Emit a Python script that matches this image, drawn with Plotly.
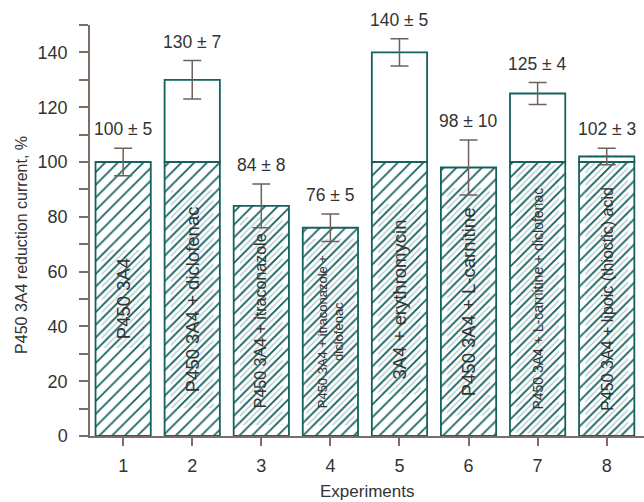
import plotly.graph_objects as go

# ---- data ----
experiments = [1, 2, 3, 4, 5, 6, 7, 8]
values = [100, 130, 84, 76, 140, 98, 125, 102]
errors = [5, 7, 8, 5, 5, 10, 4, 3]
inner_labels = [
    "P450 3A4",
    "P450 3A4 + diclofenac",
    "P450 3A4 + itraconazole",
    "P450 3A4 + itraconazole +<br>diclofenac",
    "3A4 + erythromycin",
    "P450 3A4 + L-carnitine",
    "P450 3A4 + L-carnitine + diclofenac",
    "P450 3A4 + lipoic (thioctic) acid",
]
y_ticks = [0, 20, 40, 60, 80, 100, 120, 140]

# ---- style ----
TEAL = "#14625f"
LIGHT = "#b3cacb"
ERR = "#6f605a"
AXIS = "#7c6d68"
TXT = "#333333"
FONT = "Liberation Sans, Arial, sans-serif"
CLEAR = "rgba(0,0,0,0)"
label_sizes = [18.5, 18.5, 16, 13, 18.5, 18.5, 14, 16]
label_lines = [1, 1, 1, 2, 1, 1, 1, 1]

Y_MAX = 150
PLOT_H = 411
px_per_unit = PLOT_H / Y_MAX

base_vals = [min(v, 100) for v in values]
mids = [b / 2 for b in base_vals]

# underlay (lighter hatch behind inner labels)
under_base, under_len = [], []
for lab, fs, m, nl in zip(inner_labels, label_sizes, mids, label_lines):
    longest = max(len(s) for s in lab.split("<br>"))
    length_px = longest * 0.5 * fs + 24
    half = length_px / 2 / px_per_unit
    under_base.append(m - half)
    under_len.append(2 * half)
under_w = [0.62 if nl == 1 else 0.7 for nl in label_lines]

top_x = [x for x, v in zip(experiments, values) if v > 100]
top_h = [v - 100 for v in values if v > 100]

fig = go.Figure()

fig.add_trace(go.Bar(
    x=experiments, y=under_len, base=under_base, width=under_w,
    marker=dict(color=CLEAR, line=dict(width=0),
                pattern=dict(shape="/", size=4.5, solidity=0.3,
                             fgcolor=LIGHT, bgcolor=CLEAR, fgopacity=1,
                             fillmode="overlay")),
    hoverinfo="skip", showlegend=False,
))

fig.add_trace(go.Bar(
    x=experiments, y=base_vals, width=0.8,
    marker=dict(color=CLEAR, line=dict(color=TEAL, width=1.8),
                pattern=dict(shape="/", size=9, solidity=0.19,
                             fgcolor=TEAL, bgcolor=CLEAR, fgopacity=1,
                             fillmode="overlay")),
    showlegend=False,
))

fig.add_trace(go.Bar(
    x=top_x, y=top_h, base=[100] * len(top_x), width=0.8,
    marker=dict(color="white", line=dict(color=TEAL, width=1.8)),
    showlegend=False,
))

fig.add_trace(go.Scatter(
    x=experiments, y=values, mode="markers",
    marker=dict(size=1, color=CLEAR),
    error_y=dict(type="data", array=errors, visible=True,
                 color=ERR, thickness=1.5, width=9),
    showlegend=False, hoverinfo="skip",
))

# value labels above
for x, v, e in zip(experiments, values, errors):
    fig.add_annotation(
        x=x, y=v + e, text=f"{v} ± {e}", showarrow=False,
        yanchor="middle", yshift=19,
        font=dict(family=FONT, size=17.5, color=TXT),
    )

# inner rotated labels
for x, lab, fs, m in zip(experiments, inner_labels, label_sizes, mids):
    fig.add_annotation(
        x=x, y=m, text=lab, showarrow=False, textangle=-90,
        font=dict(family=FONT, size=fs, color=TXT),
        xanchor="center", yanchor="middle",
    )

# axis titles
fig.add_annotation(
    xref="paper", yref="paper", x=0, y=0.465, xshift=-68,
    text="P450 3A4 reduction current, %", textangle=-90, showarrow=False,
    font=dict(family=FONT, size=16, color=TXT),
    xanchor="center", yanchor="middle",
)
fig.add_annotation(
    xref="paper", yref="paper", x=0.5, y=-0.136,
    text="Experiments", showarrow=False,
    font=dict(family=FONT, size=17, color=TXT),
    xanchor="center", yanchor="middle",
)

fig.update_layout(
    width=644, height=502,
    margin=dict(l=90, r=0, t=25, b=66),
    barmode="overlay",
    plot_bgcolor="white", paper_bgcolor="white",
    font=dict(family=FONT, size=18, color=TXT),
    xaxis=dict(
        range=[0.52, 8.54], tickvals=experiments,
        ticktext=[str(x) for x in experiments],
        showline=True, linecolor=AXIS, linewidth=1.5,
        ticks="outside", ticklen=8, tickwidth=1.5, tickcolor=AXIS,
        showgrid=False, zeroline=False, ticklabelstandoff=5,
        tickfont=dict(family=FONT, size=18, color=TXT),
    ),
    yaxis=dict(
        range=[0, Y_MAX], tickvals=y_ticks,
        showline=True, linecolor=AXIS, linewidth=1.5,
        ticks="outside", ticklen=9, tickwidth=1.5, tickcolor=AXIS,
        minor=dict(dtick=10, ticks="outside", ticklen=9, tickwidth=1.5,
                   tickcolor=AXIS, showgrid=False),
        showgrid=False, zeroline=False, ticklabelstandoff=8,
        tickfont=dict(family=FONT, size=18, color=TXT),
    ),
)

fig.write_html(
    "out.html",
    config={"displayModeBar": False},
    post_script="document.body.style.margin='0';document.body.style.overflow='hidden';",
)
